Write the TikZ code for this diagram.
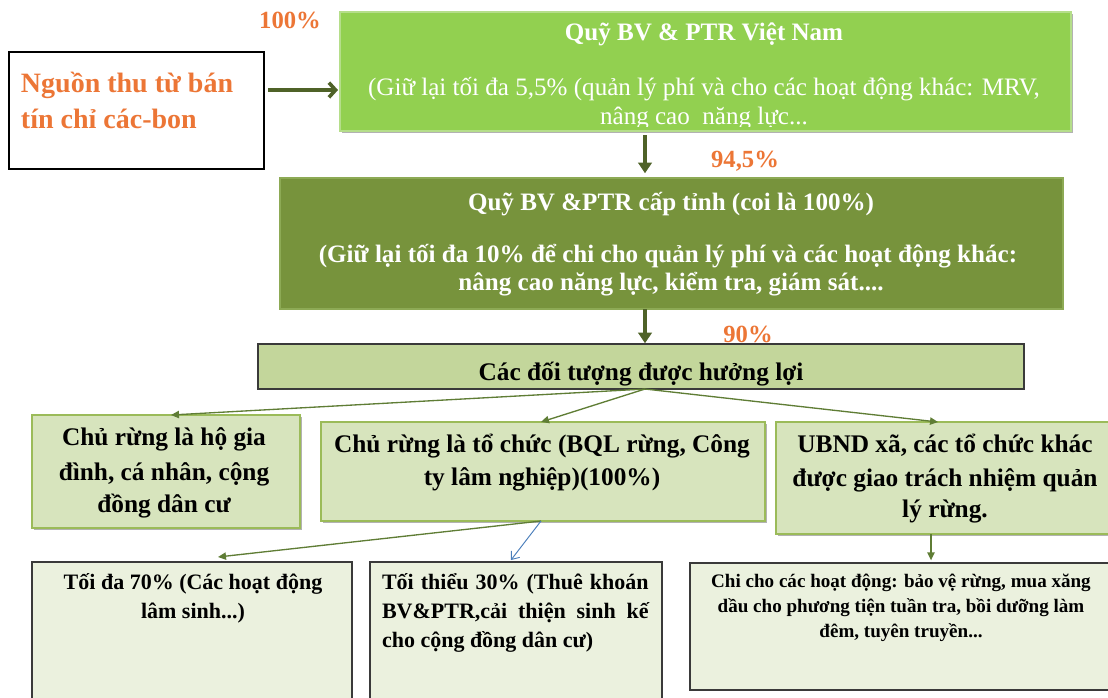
\documentclass[tikz,border=0pt]{standalone}
\usepackage{fontspec}
\setmainfont{Liberation Serif}
\usetikzlibrary{arrows.meta,shadows}
\definecolor{topgreen}{HTML}{92D050}
\definecolor{topedge}{HTML}{B5DE8A}
\definecolor{olivebox}{HTML}{77933C}
\definecolor{oliveedge}{HTML}{8DAA55}
\definecolor{benfill}{HTML}{C3D69B}
\definecolor{midfill}{HTML}{D7E4BD}
\definecolor{midedge}{HTML}{9BBB59}
\definecolor{lowfill}{HTML}{EBF1DE}
\definecolor{darkarrow}{HTML}{4F6228}
\definecolor{fanarrow}{HTML}{5F7D35}
\definecolor{orangetxt}{HTML}{EC7636}
\definecolor{bluearrow}{HTML}{4A7EBB}
\definecolor{edgegray}{HTML}{3A3A3A}
\begin{document}
\begin{tikzpicture}[x=0.75pt,y=-0.75pt,
  wh/.style 2 args={minimum width=#1*0.75pt, minimum height=#2*0.75pt, inner sep=0pt, outer sep=0pt},
  softshadow/.style={drop shadow={shadow xshift=1.5pt,shadow yshift=-1.5pt,opacity=0.3,fill=black}},
  leftbox/.style={draw=black, line width=1.1pt, fill=white},
  topbox/.style={draw=topedge, line width=0.8pt, fill=topgreen, softshadow},
  secbox/.style={draw=oliveedge, line width=0.8pt, fill=olivebox},
  benbox/.style={draw=edgegray, line width=1.1pt, fill=benfill},
  midbox/.style={draw=midedge, line width=1.1pt, fill=midfill, softshadow},
  lowbox/.style={draw=edgegray, line width=1pt, fill=lowfill},
  txt/.style={inner sep=0pt, outer sep=0pt, anchor=base},
  orangebig/.style={txt, anchor=base west, text=orangetxt, font=\fontsize{21}{25}\selectfont\bfseries},
  pct/.style={txt, text=orangetxt, font=\fontsize{18.5}{22}\selectfont\bfseries},
  whitebold/.style={txt, text=white, font=\fontsize{18.8}{23}\selectfont\bfseries},
  whitereg/.style={txt, text=white, font=\fontsize{18.8}{23}\selectfont},
  blackbold/.style={txt, text=black, font=\fontsize{19}{23}\selectfont\bfseries},
  lowtext/.style={txt, text=black, font=\fontsize{16.5}{20}\selectfont\bfseries},
  smalltext/.style={txt, text=black, font=\fontsize{14.3}{18}\selectfont\bfseries},
  sidearrow/.style={draw=darkarrow, line width=2.7pt, -{Straight Barb[length=5pt,width=11pt]}},
  thickarrow/.style={draw=darkarrow, line width=2.4pt, -{Triangle[length=8pt,width=10pt]}},
  fanline/.style={draw=fanarrow, line width=1pt, -{Triangle[length=6pt,width=5.5pt]}},
  blueline/.style={draw=bluearrow, line width=0.7pt, -{Straight Barb[length=5pt,width=8pt]}}
]
\useasboundingbox (0,0) rectangle (1108,697);
\clip (0,0) rectangle (1108,697);

% boxes
\node[leftbox, wh={255}{117}] (src) at (136.5,110.5) {};
\node[topbox, wh={731}{119}] (vnf) at (705.5,71.5) {};
\node[secbox, wh={783}{131}] (prov) at (671.5,243.5) {};
\node[benbox, wh={766}{45}] (ben) at (641,366.5) {};
\node[midbox, wh={268}{113}] (hh) at (166,471.5) {};
\node[midbox, wh={444}{99}] (org) at (543,471.5) {};
\node[midbox, wh={339}{112}] (ubnd) at (945.5,478) {};
\node[lowbox, wh={320}{150}] (silv) at (192,637) {};
\node[lowbox, wh={292}{150}] (comm) at (516,637) {};
\node[lowbox, wh={425}{127}] (spend) at (902.5,626.5) {};

% texts
\node[orangebig] (src1) at (21,92) {Nguồn thu từ bán};
\node[orangebig] (src2) at (21,128) {tín chỉ các-bon};

\node[pct] (p100) at (290,28) {100\%};
\node[pct] (p945) at (745,167) {94,5\%};
\node[pct] (p90) at (748,342) {90\%};

\begin{scope}
\clip (340,12) rectangle (1071,126);
\node[whitebold] (vnf1) at (704,40) {Quỹ BV \& PTR Việt Nam};
\node[whitereg] (vnf2) at (704,95) {(Giữ lại tối đa 5,5\% (quản lý phí và cho các hoạt động khác: MRV,};
\node[whitereg] (vnf3) at (704,124) {nâng cao\ \ năng lực...};
\end{scope}

\node[whitebold] (prov1) at (671,210) {Quỹ BV \&PTR cấp tỉnh (coi là 100\%)};
\node[whitebold] (prov2) at (668,262) {(Giữ lại tối đa 10\% để chi cho quản lý phí và các hoạt động khác:};
\node[whitebold] (prov3) at (671,290) {nâng cao năng lực, kiểm tra, giám sát....};

\node[blackbold] (ben1) at (641,380) {Các đối tượng được hưởng lợi};

\node[blackbold] (hh1) at (164,445) {Chủ rừng là hộ gia};
\node[blackbold] (hh2) at (164,480) {đình, cá nhân, cộng};
\node[blackbold] (hh3) at (164,512) {đồng dân cư};

\node[blackbold] (org1) at (542,452) {Chủ rừng là tổ chức (BQL rừng, Công};
\node[blackbold] (org2) at (542,485) {ty lâm nghiệp)(100\%)};

\node[blackbold] (ub1) at (945,452) {UBND xã, các tổ chức khác};
\node[blackbold] (ub2) at (945,486) {được giao trách nhiệm quản};
\node[blackbold] (ub3) at (945,517) {lý rừng.};

\node[lowtext] (sv1) at (193,589) {Tối đa 70\% (Các hoạt động};
\node[lowtext] (sv2) at (193,618) {lâm sinh...)};

\node[lowtext, anchor=base west] (cm1) at (382,589) {\makebox[200pt][s]{Tối thiểu 30\% (Thuê khoán}};
\node[lowtext, anchor=base west] (cm2) at (382,618) {\makebox[200pt][s]{BV\&PTR,cải thiện sinh kế}};
\node[lowtext, anchor=base west] (cm3) at (382,647) {cho cộng đồng dân cư)};

\node[smalltext] (sp1) at (901,587) {Chi cho các hoạt động: bảo vệ rừng, mua xăng};
\node[smalltext] (sp2) at (901,612) {dầu cho phương tiện tuần tra, bồi dưỡng làm};
\node[smalltext] (sp3) at (901,637) {đêm, tuyên truyền...};

% connectors
\draw[sidearrow, shorten <=3pt, shorten >=1.5pt] (src.east |- 0,90) -- (vnf.west |- 0,90);
\draw[thickarrow, shorten <=3pt, shorten >=3.5pt] (vnf.south -| 645,0) -- (prov.north -| 645,0);
\draw[thickarrow, shorten >=0.5pt] (prov.south -| 645,0) -- (ben.north -| 645,0);

\coordinate (fan) at (ben.south -| 645,0);
\draw[fanline] (fan) -- ([xshift=3.75pt]hh.north);
\draw[fanline] (fan) -- ([xshift=-1.5pt]org.north);
\draw[fanline] (fan) -- ([xshift=-5.6pt]ubnd.north);

\draw[fanline] ([xshift=-1.5pt]org.south) -- ([xshift=19.5pt,yshift=3.75pt]silv.north);
\draw[blueline] ([xshift=-1.5pt]org.south) -- ([xshift=-3.75pt,yshift=1.5pt]comm.north);
\draw[fanline, shorten >=2pt] (ubnd.south -| 931,0) -- (spend.north -| 931,0);
\end{tikzpicture}
\end{document}
